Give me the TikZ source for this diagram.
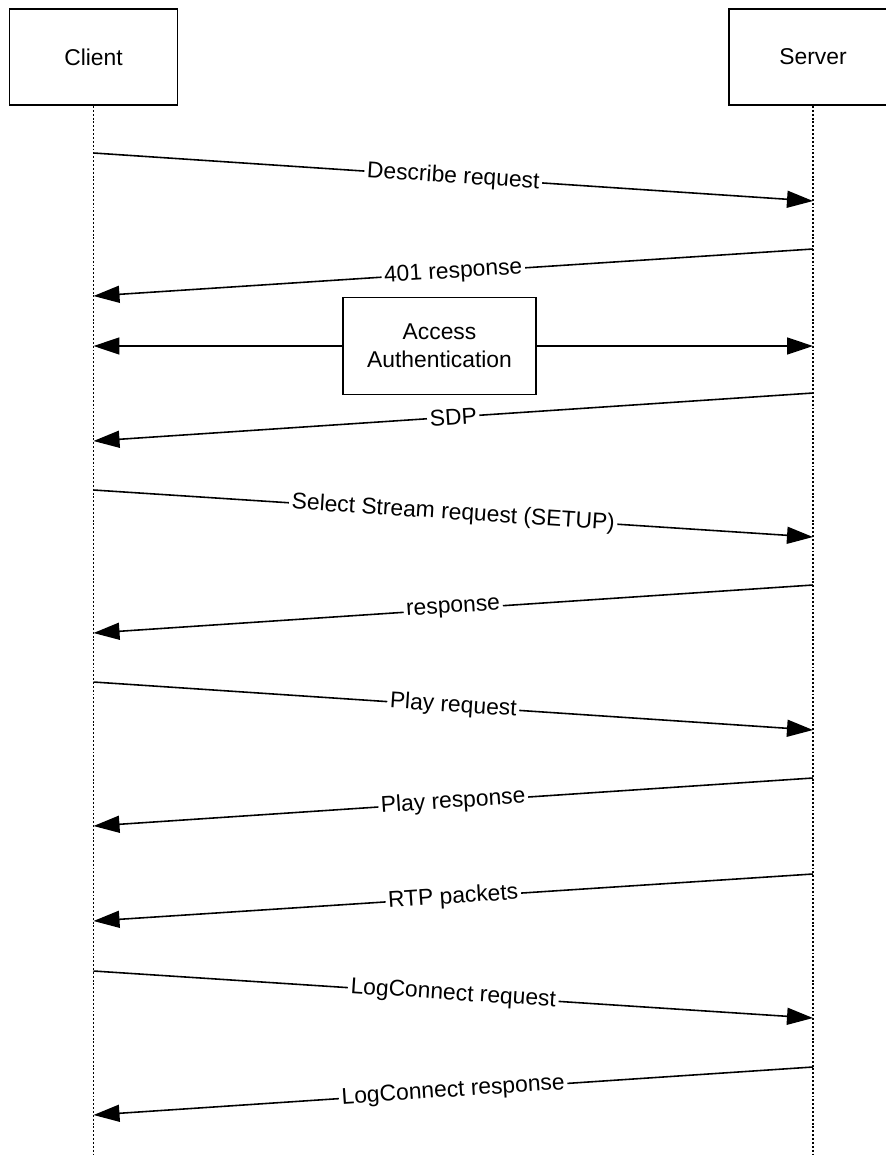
\documentclass[tikz,border=0pt]{standalone}
\usepackage{fontspec}
\setmainfont{Liberation Sans}
\usetikzlibrary{arrows.meta}

\begin{document}
\begin{tikzpicture}[x=0.02cm, y=-0.02cm, font=\fontsize{13}{16}\selectfont,
  actor/.style={draw, line width=0.9pt, minimum width=3.36cm, minimum height=1.93cm, inner sep=0pt},
  life/.style={line width=0.8pt, dash pattern=on 1.1pt off 1.1pt},
  msg/.style={line width=0.9pt, -{Triangle[length=0.52cm, width=0.34cm]}},
  lbl/.style={midway, sloped, fill=white, inner sep=1.5pt}]

\useasboundingbox (0,0) rectangle (886,1157);

\node [actor] (client) at (93.5,57) {Client};
\node [actor] (server) at (813,57) {Server};
\coordinate (cend) at (93.5,1157);
\coordinate (send) at (813,1157);
\draw [life] (client.south) -- (cend);
\draw [life] (server.south) -- (send);

\coordinate (c1) at (93.5,153);
\coordinate (s1) at (813,201);
\coordinate (s2) at (813,249);
\coordinate (c2) at (93.5,296);
\coordinate (ca) at (93.5,346);
\coordinate (sa) at (813,346);
\coordinate (s4) at (813,393);
\coordinate (c4) at (93.5,441);
\coordinate (c5) at (93.5,490);
\coordinate (s5) at (813,537);
\coordinate (s6) at (813,585);
\coordinate (c6) at (93.5,633);
\coordinate (c7) at (93.5,682);
\coordinate (s7) at (813,730);
\coordinate (s8) at (813,778);
\coordinate (c8) at (93.5,826);
\coordinate (s9) at (813,874);
\coordinate (c9) at (93.5,921);
\coordinate (c10) at (93.5,971);
\coordinate (s10) at (813,1018);
\coordinate (s11) at (813,1067);
\coordinate (c11) at (93.5,1115);

\node [draw, line width=0.9pt, align=center, minimum width=3.86cm, minimum height=1.94cm] (auth) at (439.5,346) {Access\\Authentication};

\draw [msg] (c1) -- node [lbl] {Describe request} (s1);
\draw [msg] (s2) -- node [lbl] {401 response} (c2);
\draw [msg] (auth.west) -- (ca);
\draw [msg] (auth.east) -- (sa);
\draw [msg] (s4) -- node [lbl] {SDP} (c4);
\draw [msg] (c5) -- node [lbl] {Select Stream request (SETUP)} (s5);
\draw [msg] (s6) -- node [lbl] {response} (c6);
\draw [msg] (c7) -- node [lbl] {Play request} (s7);
\draw [msg] (s8) -- node [lbl] {Play response} (c8);
\draw [msg] (s9) -- node [lbl] {RTP packets} (c9);
\draw [msg] (c10) -- node [lbl] {LogConnect request} (s10);
\draw [msg] (s11) -- node [lbl] {LogConnect response} (c11);
\end{tikzpicture}
\end{document}
